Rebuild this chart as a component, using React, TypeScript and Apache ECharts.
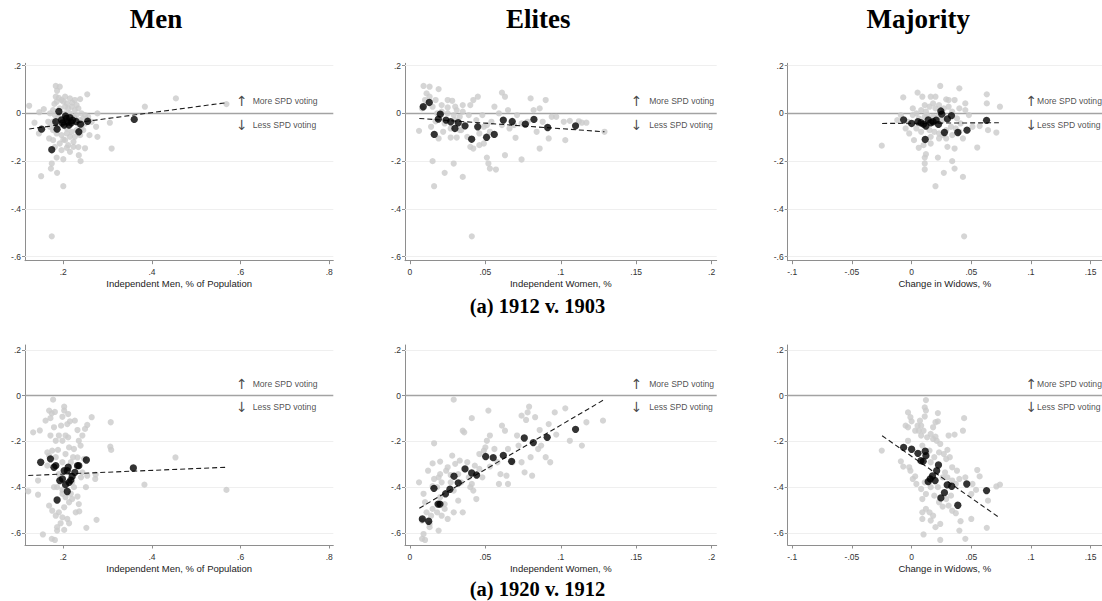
import React, { useEffect, useRef } from "react";
import * as echarts from "echarts";

// ---------- tick labels / titles ----------
const yTicks = [-0.6, -0.4, -0.2, 0, 0.2];
const gridValues = [-0.6, -0.4, -0.2, 0.2];
const menTicks = [0.2, 0.4, 0.6, 0.8];
const womenTicks = [0, 0.05, 0.1, 0.15, 0.2];
const widowTicks = [-0.1, -0.05, 0, 0.05, 0.1, 0.15];
const colTitles = ["Men", "Elites", "Majority"];
const rowTitles = ["(a) 1912 v. 1903", "(a) 1920 v. 1912"];
const xNames = ["Independent Men, % of Population", "Independent Women, %", "Change in Widows, %"];
const arrowX = [0.6, 0.15, 0.1];
const moreText = "More SPD voting";
const lessText = "Less SPD voting";

// ---------- 1912 v. 1903 ----------
const menTopGray = [
  [0.183,0.115],[0.192,0.112],[0.186,0.095],[0.183,0.070],[0.185,0.049],[0.196,0.056],[0.204,0.070],[0.208,0.042],[0.215,0.063],[0.226,0.056],
  [0.238,0.060],[0.254,0.080],[0.230,0.035],[0.219,0.028],[0.211,0.021],[0.204,0.028],[0.192,0.021],[0.177,0.014],[0.170,0.000],[0.181,-0.007],
  [0.189,-0.014],[0.204,0.000],[0.215,0.000],[0.226,0.014],[0.234,0.021],[0.241,0.000],[0.249,-0.007],[0.256,-0.014],[0.245,-0.021],[0.230,-0.007],
  [0.223,-0.014],[0.238,-0.028],[0.249,-0.042],[0.241,-0.063],[0.230,-0.070],[0.219,-0.077],[0.208,-0.084],[0.196,-0.091],[0.185,-0.084],[0.177,-0.070],
  [0.170,-0.056],[0.166,-0.035],[0.177,-0.035],[0.189,-0.049],[0.208,-0.063],[0.215,-0.098],[0.226,-0.098],[0.238,-0.091],[0.245,-0.070],[0.204,-0.112],
  [0.192,-0.126],[0.181,-0.140],[0.196,-0.154],[0.211,-0.133],[0.223,-0.140],[0.208,-0.144],[0.234,-0.141],[0.249,-0.146],[0.235,-0.175],[0.239,-0.200],
  [0.200,-0.192],[0.185,-0.185],[0.174,-0.210],[0.172,-0.231],[0.186,-0.249],[0.150,-0.263],[0.200,-0.305],[0.174,-0.515],[0.123,0.032],[0.135,-0.039],
  [0.146,0.005],[0.156,0.018],[0.145,-0.084],[0.274,-0.056],[0.277,-0.098],[0.277,0.000],[0.305,-0.039],[0.309,-0.147],[0.384,0.028],[0.454,0.063],
  [0.568,0.039],[0.259,-0.091],[0.264,-0.035],[0.168,-0.105],[0.177,-0.112],[0.215,-0.161],[0.223,-0.119],[0.200,0.050],[0.210,-0.040],[0.195,-0.030],
  [0.225,-0.020],[0.180,0.040],[0.190,0.065],[0.220,0.045],[0.235,-0.045],[0.200,-0.110],[0.185,-0.060]
];
const menTopBins = [
  [0.151,-0.066],[0.174,-0.152],[0.183,-0.035],[0.186,-0.066],[0.190,0.008],[0.196,-0.027],[0.202,-0.049],[0.205,-0.011],[0.213,-0.049],[0.210,-0.036],
  [0.215,-0.018],[0.221,-0.028],[0.229,-0.034],[0.235,-0.077],[0.239,-0.045],[0.255,-0.033],[0.360,-0.025],[0.207,-0.021],[0.218,-0.039],[0.198,-0.040]
];
const menTopFit = [[0.123,-0.065],[0.568,0.045]];

const womenTopGray = [
  [0.006,-0.073],[0.009,0.115],[0.013,0.112],[0.011,0.084],[0.013,0.070],[0.010,0.056],[0.008,0.021],[0.015,0.028],[0.019,0.102],[0.017,0.056],
  [0.021,0.035],[0.025,0.056],[0.028,0.053],[0.031,0.014],[0.025,0.000],[0.029,-0.007],[0.033,-0.014],[0.035,0.007],[0.039,-0.007],[0.040,0.035],
  [0.042,0.056],[0.045,0.070],[0.048,-0.007],[0.051,-0.049],[0.053,-0.077],[0.056,0.028],[0.059,0.000],[0.061,0.087],[0.063,0.070],[0.065,0.014],
  [0.066,-0.063],[0.071,-0.007],[0.074,-0.042],[0.078,-0.035],[0.080,0.063],[0.082,0.014],[0.084,-0.077],[0.086,0.021],[0.088,-0.035],[0.090,0.056],
  [0.092,-0.105],[0.094,-0.014],[0.097,-0.014],[0.102,-0.035],[0.103,-0.112],[0.106,-0.031],[0.112,-0.033],[0.114,-0.039],[0.117,-0.039],[0.129,-0.077],
  [0.015,-0.200],[0.016,-0.305],[0.023,-0.249],[0.029,-0.210],[0.035,-0.266],[0.041,-0.515],[0.040,-0.140],[0.042,-0.147],[0.046,-0.133],[0.049,-0.126],
  [0.051,-0.185],[0.052,-0.210],[0.053,-0.231],[0.057,-0.235],[0.063,-0.175],[0.070,-0.102],[0.074,-0.193],[0.086,-0.147],[0.017,-0.033],[0.014,-0.056],
  [0.019,-0.105],[0.022,-0.077],[0.027,-0.101],[0.031,-0.101],[0.034,-0.070],[0.038,-0.098],[0.027,-0.063],[0.023,-0.042],[0.030,-0.028],[0.044,-0.028],
  [0.046,-0.084],[0.049,-0.056],[0.054,-0.035],[0.061,-0.049],[0.069,-0.049],[0.018,0.000],[0.021,0.007],[0.030,0.028],[0.025,0.025],[0.035,0.035],
  [0.033,-0.070]
];
const womenTopBins = [
  [0.0088,0.028],[0.0128,0.046],[0.0161,-0.088],[0.0188,-0.024],[0.0201,-0.003],[0.0239,-0.028],[0.0270,-0.035],[0.0298,-0.063],[0.0320,-0.039],[0.0365,-0.052],
  [0.0409,-0.108],[0.0449,-0.056],[0.0508,-0.100],[0.0559,-0.088],[0.0619,-0.028],[0.0678,-0.034],[0.0765,-0.045],[0.0822,-0.025],[0.0913,-0.059],[0.1098,-0.052]
];
const womenTopFit = [[0.0062,-0.021],[0.129,-0.077]];

const widowTopGray = [
  [-0.025,-0.135],[-0.007,0.067],[0.005,0.087],[0.009,0.070],[0.016,0.070],[0.020,0.070],[0.024,0.115],[0.029,0.059],[0.031,0.056],[0.036,0.056],
  [0.040,0.105],[0.045,0.042],[0.063,0.080],[0.063,0.042],[0.074,0.028],[0.064,-0.070],[0.071,-0.080],[0.055,-0.143],[0.057,-0.053],[0.051,-0.056],
  [0.048,-0.007],[0.045,0.014],[0.040,0.021],[0.043,-0.105],[0.036,-0.147],[0.036,-0.231],[0.034,-0.200],[0.030,-0.140],[0.027,-0.249],[0.022,-0.185],
  [0.020,-0.305],[0.043,-0.266],[0.044,-0.515],[0.011,-0.185],[0.011,-0.210],[0.011,-0.235],[0.012,-0.171],[0.006,-0.144],[0.010,-0.133],[0.016,-0.126],
  [0.023,-0.105],[0.029,-0.105],[0.002,-0.112],[-0.002,-0.084],[-0.005,-0.063],[-0.009,-0.007],[-0.012,-0.028],[0.001,0.021],[0.004,0.000],[0.008,0.014],
  [0.011,0.035],[0.012,0.007],[0.015,0.028],[0.018,0.042],[0.020,0.021],[0.023,0.035],[0.027,0.021],[0.031,0.028],[0.034,0.007],[0.038,-0.021],
  [0.041,-0.042],[0.037,-0.063],[0.033,-0.056],[0.029,-0.070],[0.023,-0.084],[0.019,-0.077],[0.015,-0.070],[0.008,-0.077],[0.004,-0.063],[0.006,-0.021],
  [0.011,-0.014],[0.013,-0.007],[0.018,-0.014],[0.022,-0.014],[0.026,-0.028],[0.016,-0.098],[0.026,-0.091],[0.034,-0.091],[0.040,-0.077],[-0.003,-0.035],
  [0.001,-0.007]
];
const widowTopBins = [
  [-0.0067,-0.027],[0.0000,-0.042],[0.0053,-0.035],[0.0078,-0.039],[0.0100,-0.045],[0.0120,-0.053],[0.0114,-0.109],[0.0139,-0.027],[0.0160,-0.039],[0.0180,-0.035],
  [0.0206,-0.028],[0.0225,-0.046],[0.0245,0.010],[0.0253,-0.003],[0.0275,-0.080],[0.0300,-0.023],[0.0334,-0.009],[0.0387,-0.080],[0.0464,-0.070],[0.0628,-0.029]
];
const widowTopFit = [[-0.0247,-0.042],[0.0731,-0.039]];

// ---------- 1920 v. 1912 ----------
const menBotGray = [
  [0.177,-0.017],[0.202,-0.048],[0.202,-0.065],[0.168,-0.065],[0.174,-0.077],[0.181,-0.071],[0.198,-0.092],[0.160,-0.109],[0.171,-0.098],[0.209,-0.124],
  [0.215,-0.112],[0.226,-0.109],[0.264,-0.094],[0.254,-0.128],[0.249,-0.145],[0.232,-0.150],[0.132,-0.160],[0.147,-0.152],[0.179,-0.138],[0.190,-0.174],
  [0.171,-0.174],[0.205,-0.174],[0.211,-0.182],[0.243,-0.174],[0.235,-0.197],[0.239,-0.218],[0.198,-0.197],[0.183,-0.197],[0.213,-0.226],[0.224,-0.233],
  [0.306,-0.223],[0.308,-0.237],[0.307,-0.116],[0.175,-0.240],[0.188,-0.237],[0.205,-0.255],[0.168,-0.262],[0.232,-0.270],[0.247,-0.276],[0.453,-0.270],
  [0.198,-0.291],[0.164,-0.306],[0.217,-0.291],[0.243,-0.335],[0.254,-0.350],[0.273,-0.345],[0.272,-0.364],[0.143,-0.371],[0.121,-0.418],[0.143,-0.433],
  [0.186,-0.400],[0.198,-0.412],[0.224,-0.400],[0.232,-0.441],[0.251,-0.400],[0.383,-0.389],[0.568,-0.412],[0.179,-0.400],[0.205,-0.444],[0.213,-0.466],
  [0.220,-0.452],[0.235,-0.474],[0.202,-0.488],[0.190,-0.510],[0.228,-0.510],[0.236,-0.506],[0.175,-0.503],[0.183,-0.525],[0.198,-0.532],[0.209,-0.539],
  [0.168,-0.481],[0.213,-0.558],[0.194,-0.558],[0.186,-0.575],[0.202,-0.587],[0.252,-0.578],[0.275,-0.543],[0.154,-0.607],[0.174,-0.626],[0.181,-0.631],
  [0.186,-0.590],[0.190,-0.343],[0.220,-0.379],[0.240,-0.357],[0.198,-0.429],[0.217,-0.429],[0.195,-0.131],[0.211,-0.080],[0.183,-0.269],[0.222,-0.269],
  [0.164,-0.248]
];
const menBotBins = [
  [0.149,-0.291],[0.171,-0.276],[0.179,-0.313],[0.183,-0.306],[0.192,-0.371],[0.198,-0.364],[0.202,-0.328],[0.205,-0.389],[0.209,-0.328],[0.211,-0.313],
  [0.213,-0.379],[0.217,-0.369],[0.220,-0.353],[0.226,-0.335],[0.232,-0.306],[0.235,-0.306],[0.252,-0.281],[0.209,-0.419],[0.186,-0.456],[0.358,-0.316]
];
const menBotFit = [[0.121,-0.349],[0.568,-0.313]];

const womenBotGray = [
  [0.006,-0.379],[0.009,-0.429],[0.010,-0.466],[0.011,-0.510],[0.008,-0.546],[0.009,-0.605],[0.008,-0.626],[0.010,-0.631],[0.013,-0.575],[0.013,-0.561],
  [0.014,-0.525],[0.015,-0.495],[0.018,-0.510],[0.019,-0.590],[0.021,-0.525],[0.023,-0.495],[0.025,-0.539],[0.023,-0.474],[0.020,-0.444],[0.018,-0.400],
  [0.021,-0.379],[0.019,-0.357],[0.016,-0.364],[0.015,-0.296],[0.016,-0.208],[0.020,-0.343],[0.024,-0.328],[0.025,-0.313],[0.028,-0.262],[0.029,-0.017],
  [0.027,-0.379],[0.029,-0.415],[0.029,-0.510],[0.032,-0.459],[0.035,-0.510],[0.032,-0.343],[0.034,-0.379],[0.035,-0.153],[0.036,-0.160],[0.038,-0.291],
  [0.039,-0.357],[0.040,-0.400],[0.042,-0.415],[0.044,-0.452],[0.041,-0.386],[0.041,-0.098],[0.043,-0.306],[0.046,-0.320],[0.048,-0.357],[0.046,-0.255],
  [0.049,-0.240],[0.050,-0.226],[0.051,-0.197],[0.052,-0.065],[0.053,-0.174],[0.053,-0.310],[0.056,-0.233],[0.058,-0.291],[0.060,-0.343],[0.059,-0.386],
  [0.061,-0.131],[0.063,-0.153],[0.065,-0.233],[0.064,-0.350],[0.065,-0.386],[0.068,-0.291],[0.071,-0.174],[0.072,-0.218],[0.074,-0.291],[0.076,-0.335],
  [0.074,-0.087],[0.077,-0.106],[0.079,-0.048],[0.078,-0.073],[0.080,-0.269],[0.081,-0.350],[0.083,-0.094],[0.085,-0.233],[0.087,-0.218],[0.086,-0.150],
  [0.090,-0.269],[0.093,-0.291],[0.092,-0.124],[0.096,-0.073],[0.097,-0.170],[0.103,-0.055],[0.106,-0.197],[0.114,-0.218],[0.117,-0.116],[0.128,-0.109],
  [0.027,-0.347],[0.020,-0.288],[0.012,-0.328],[0.015,-0.396],[0.030,-0.298],[0.033,-0.284]
];
const womenBotBins = [
  [0.0082,-0.539],[0.0124,-0.549],[0.0159,-0.405],[0.0186,-0.474],[0.0199,-0.474],[0.0236,-0.429],[0.0265,-0.409],[0.0292,-0.352],[0.0320,-0.381],[0.0365,-0.320],
  [0.0409,-0.338],[0.0442,-0.347],[0.0502,-0.266],[0.0552,-0.271],[0.0619,-0.261],[0.0674,-0.287],[0.0758,-0.185],[0.0818,-0.205],[0.0910,-0.182],[0.1098,-0.147]
];
const womenBotFit = [[0.0062,-0.492],[0.1288,-0.017]];

const widowBotGray = [
  [-0.025,-0.240],[-0.009,-0.287],[-0.007,-0.310],[-0.003,-0.073],[-0.005,-0.131],[-0.003,-0.138],[-0.001,-0.094],[0.000,-0.112],[-0.003,-0.197],[-0.002,-0.313],
  [-0.001,-0.328],[0.001,-0.364],[0.003,-0.353],[0.003,-0.153],[0.005,-0.131],[0.007,-0.109],[0.008,-0.131],[0.006,-0.153],[0.008,-0.174],[0.009,-0.218],
  [0.010,-0.153],[0.011,-0.091],[0.011,-0.051],[0.012,-0.019],[0.012,-0.065],[0.013,-0.182],[0.016,-0.167],[0.018,-0.189],[0.020,-0.179],[0.021,-0.197],
  [0.022,-0.076],[0.022,-0.112],[0.024,-0.211],[0.027,-0.255],[0.029,-0.277],[0.030,-0.237],[0.031,-0.174],[0.036,-0.170],[0.032,-0.269],[0.034,-0.313],
  [0.038,-0.328],[0.043,-0.153],[0.044,-0.098],[0.055,-0.325],[0.057,-0.353],[0.051,-0.386],[0.050,-0.430],[0.054,-0.412],[0.064,-0.459],[0.063,-0.578],
  [0.071,-0.397],[0.074,-0.389],[0.050,-0.539],[0.045,-0.626],[0.040,-0.590],[0.041,-0.549],[0.037,-0.514],[0.034,-0.503],[0.031,-0.481],[0.026,-0.485],
  [0.024,-0.631],[0.024,-0.561],[0.020,-0.575],[0.018,-0.525],[0.015,-0.510],[0.016,-0.546],[0.012,-0.495],[0.010,-0.607],[0.009,-0.539],[0.009,-0.510],
  [0.009,-0.452],[0.012,-0.430],[0.008,-0.408],[0.004,-0.386],[0.011,-0.379],[0.016,-0.400],[0.019,-0.437],[0.023,-0.466],[0.029,-0.452],[0.033,-0.437],
  [0.037,-0.386],[0.040,-0.364],[0.045,-0.357],[0.034,-0.371],[0.026,-0.357],[0.022,-0.400],[0.030,-0.357],[0.028,-0.335],[0.016,-0.291],[0.019,-0.269],
  [0.023,-0.248],[0.015,-0.240],[0.018,-0.138],[0.020,-0.116]
];
const widowBotBins = [
  [-0.0067,-0.226],[0.0000,-0.234],[0.0053,-0.252],[0.0078,-0.284],[0.0097,-0.287],[0.0114,-0.243],[0.0120,-0.262],[0.0139,-0.376],[0.0156,-0.364],[0.0175,-0.351],
  [0.0197,-0.371],[0.0210,-0.328],[0.0225,-0.303],[0.0245,-0.447],[0.0275,-0.424],[0.0298,-0.390],[0.0336,-0.396],[0.0387,-0.479],[0.0462,-0.386],[0.0628,-0.415]
];
const widowBotFit = [[-0.0247,-0.175],[0.0737,-0.534]];

const panels = [
  [
    { gray: menTopGray, bins: menTopBins, fit: menTopFit },
    { gray: womenTopGray, bins: womenTopBins, fit: womenTopFit },
    { gray: widowTopGray, bins: widowTopBins, fit: widowTopFit },
  ],
  [
    { gray: menBotGray, bins: menBotBins, fit: menBotFit },
    { gray: womenBotGray, bins: womenBotBins, fit: womenBotFit },
    { gray: widowBotGray, bins: widowBotBins, fit: widowBotFit },
  ],
];
const xTicksByCol = [menTicks, womenTicks, widowTicks];

// ---------- layout (not data) ----------
const colLayout = [
  { left: 25, width: 308.3, min: 0.1136, max: 0.809, gap: 11.5, nudge: 0.6, titleX: 156 },
  { left: 405, width: 311.7, min: -0.0033, max: 0.2034, gap: 12.5, nudge: 0, titleX: 538.3 },
  { left: 787.7, width: 316, min: -0.1038, max: 0.1595, gap: 5.5, nudge: 0, titleX: 918.3 },
];
const rowLayout = [
  { top: 63.3, height: 197.4, min: -0.617, max: 0.21, subY: 305.5 },
  { top: 345, height: 200, min: -0.653, max: 0.222, subY: 588.5 },
];

const SANS = '"Liberation Sans", Arial, sans-serif';
const SERIF = '"Liberation Serif", "Times New Roman", serif';
const ARROW_FONT = '"DejaVu Sans", sans-serif';
const AXIS_COLOR = "#8e8e8e";

function fmt(v: number): string {
  if (Math.abs(v) < 1e-9) return "0";
  const s = String(Math.abs(v)).replace(/^0/, "");
  return (v < 0 ? "-" : "") + s;
}

function buildOption() {
  const grids: any[] = [];
  const xAxes: any[] = [];
  const yAxes: any[] = [];
  const series: any[] = [];
  const graphics: any[] = [];

  rowLayout.forEach((r, ri) => {
    colLayout.forEach((c, ci) => {
      const idx = ri * 3 + ci;
      grids.push({ left: c.left, top: r.top, width: c.width, height: r.height, containLabel: false });
      xAxes.push({
        type: "value",
        gridIndex: idx,
        min: c.min,
        max: c.max,
        axisLine: { show: true, onZero: false, lineStyle: { color: AXIS_COLOR, width: 1 } },
        axisTick: { show: true, length: 3.5, customValues: xTicksByCol[ci], lineStyle: { color: AXIS_COLOR, width: 1 } },
        axisLabel: { customValues: xTicksByCol[ci], formatter: fmt, fontSize: 8.5, color: "#333", margin: 7, fontFamily: SANS },
        splitLine: { show: false },
        name: xNames[ci],
        nameLocation: "middle",
        nameGap: 18,
        nameTextStyle: { fontSize: 9.5, color: "#222", fontFamily: SANS },
      });
      yAxes.push({
        type: "value",
        gridIndex: idx,
        min: r.min,
        max: r.max,
        axisLine: { show: true, onZero: false, lineStyle: { color: AXIS_COLOR, width: 1 } },
        axisTick: { show: true, length: 3, customValues: yTicks, lineStyle: { color: AXIS_COLOR, width: 1 } },
        axisLabel: { customValues: yTicks, formatter: fmt, fontSize: 8.5, color: "#333", margin: 4, fontFamily: SANS },
        splitLine: { show: false },
      });

      const p = panels[ri][ci];
      series.push({
        type: "line",
        xAxisIndex: idx,
        yAxisIndex: idx,
        data: [],
        silent: true,
        z: 1,
        markLine: {
          silent: true,
          symbol: "none",
          z: 1,
          label: { show: false },
          animation: false,
          data: [
            ...gridValues.map((v) => ({ yAxis: v, lineStyle: { color: "#efefef", width: 1, type: "solid" } })),
            { yAxis: 0, lineStyle: { color: "#a3a3a3", width: 1.3, type: "solid" } },
          ],
        },
      });
      series.push({
        type: "scatter",
        xAxisIndex: idx,
        yAxisIndex: idx,
        data: p.gray,
        symbolSize: 6.2,
        itemStyle: { color: "#cbcbcb" },
        silent: true,
        z: 2,
      });
      series.push({
        type: "line",
        xAxisIndex: idx,
        yAxisIndex: idx,
        data: p.fit,
        symbol: "none",
        silent: true,
        lineStyle: { color: "#1e1e1e", width: 1.1, type: [5, 3] },
        z: 3,
      });
      series.push({
        type: "scatter",
        xAxisIndex: idx,
        yAxisIndex: idx,
        data: p.bins,
        symbolSize: 7.3,
        itemStyle: { color: "#000" },
        silent: true,
        z: 4,
      });
      const ax = arrowX[ci];
      const arrowLabel = {
        show: true,
        position: "right",
        distance: c.nudge,
        align: "center",
        verticalAlign: "middle",
        fontSize: 14,
        color: "#1a1a1a",
        textBorderWidth: 0,
        fontFamily: ARROW_FONT,
      };
      const txtLabel = {
        show: true,
        position: "right",
        distance: c.gap,
        fontSize: 8.6,
        color: "#222",
        textBorderWidth: 0,
        fontFamily: SANS,
      };
      series.push({
        type: "scatter",
        xAxisIndex: idx,
        yAxisIndex: idx,
        symbolSize: 1,
        itemStyle: { color: "rgba(255,255,255,0)" },
        silent: true,
        clip: false,
        z: 5,
        data: [
          { value: [ax, 0.05], label: { ...arrowLabel, formatter: "\u2191" } },
          { value: [ax, -0.05], label: { ...arrowLabel, formatter: "\u2193" } },
          { value: [ax, 0.05], label: { ...txtLabel, formatter: moreText } },
          { value: [ax, -0.05], label: { ...txtLabel, formatter: lessText } },
        ],
      });

      if (ri === 0) {
        graphics.push({
          type: "text",
          x: c.titleX,
          y: 19.2,
          style: {
            text: colTitles[ci],
            font: `bold 27px ${SERIF}`,
            fill: "#000",
            align: "center",
            verticalAlign: "middle",
            textAlign: "center",
            textVerticalAlign: "middle",
          },
        });
      }
    });
    graphics.push({
      type: "text",
      x: 537.5,
      y: r.subY,
      style: {
        text: rowTitles[ri],
        font: `bold 20.5px ${SERIF}`,
        fill: "#000",
        align: "center",
        verticalAlign: "middle",
        textAlign: "center",
        textVerticalAlign: "middle",
      },
    });
  });

  return {
    animation: false,
    backgroundColor: "#ffffff",
    grid: grids,
    xAxis: xAxes,
    yAxis: yAxes,
    series,
    graphic: graphics,
  };
}

export default function App() {
  const ref = useRef<HTMLDivElement>(null);
  useEffect(() => {
    if (!ref.current) return;
    const chart = echarts.init(ref.current, undefined, { renderer: "svg" });
    chart.setOption(buildOption() as any);
    return () => chart.dispose();
  }, []);
  return (
    <div
      ref={ref}
      style={{ position: "fixed", left: 0, top: 0, width: 1102, height: 601, background: "#fff" }}
    />
  );
}
